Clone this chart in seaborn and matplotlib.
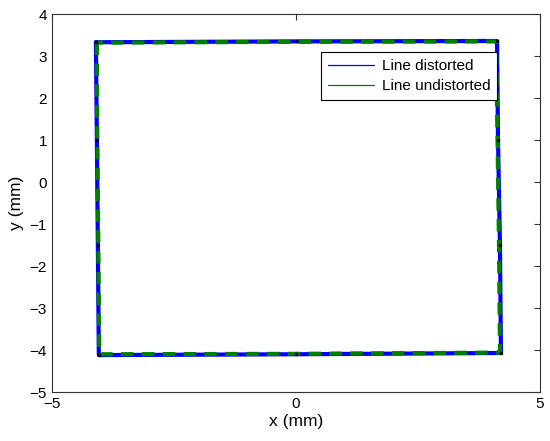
import matplotlib
matplotlib.use("Agg")
import matplotlib.pyplot as plt
import seaborn as sns
import pandas as pd

sns.set_style("white")
plt.rcParams['font.family'] = ['Arial', 'Liberation Sans', 'DejaVu Sans']
plt.rcParams['text.color'] = 'black'
plt.rcParams['axes.labelcolor'] = 'black'
plt.rcParams['xtick.color'] = 'black'
plt.rcParams['ytick.color'] = 'black'

# distorted line (closed contour)
dist_x = [-4.10, -4.08, -4.06, -4.04, 0.0, 4.20, 4.18, 4.14, 4.12, 0.0, -4.10]
dist_y = [3.33, 1.0, -1.5, -4.12, -4.10, -4.07, -1.5, 1.0, 3.36, 3.35, 3.33]
# undistorted line
und_x = [-4.08, -4.07, -4.05, -4.03, 0.0, 4.18, 4.16, 4.13, 4.10, 0.0, -4.08]
und_y = [3.32, 1.0, -1.5, -4.10, -4.09, -4.06, -1.5, 1.0, 3.35, 3.34, 3.32]

xticks = [-5, 0, 5]
yticks = [-5, -4, -3, -2, -1, 0, 1, 2, 3, 4]

fig = plt.figure(figsize=(5.5, 4.41), dpi=100)
ax = fig.add_axes([0.0945, 0.111, 0.8873, 0.857])

n = len(dist_x)
df_d = pd.DataFrame({"x": dist_x, "y": dist_y, "o": range(n)})
df_u = pd.DataFrame({"x": und_x, "y": und_y, "o": range(n)})

sns.lineplot(data=df_d, x="x", y="y", sort=False, estimator=None, ax=ax,
             color="#0000ff", lw=3.0, label="_d")
sns.lineplot(data=df_u, x="x", y="y", sort=False, estimator=None, ax=ax,
             color="#007f00", lw=3.0, dashes=False, label="_u")
ax.lines[-1].set_linestyle((0, (3, 2.0)))
ax.plot(dist_x, dist_y, ls="none", marker=".", ms=3, color="black")

from matplotlib.lines import Line2D
handles = [Line2D([], [], color="#0000ff", lw=0.9),
           Line2D([], [], color="#007f00", lw=0.9)]
leg = ax.legend(handles, ["Line distorted", "Line undistorted"], loc="upper right",
                bbox_to_anchor=(0.912, 0.899), fancybox=False, framealpha=1,
                edgecolor="black", fontsize=11, handlelength=3.0,
                borderpad=0.45, labelspacing=0.4, handletextpad=0.5,
                borderaxespad=0)
leg.get_frame().set_linewidth(0.8)

ax.set_xlim(-5, 5)
ax.set_ylim(-5, 4)
ax.set_xticks(xticks)
ax.set_yticks(yticks)
ax.set_xlabel("x (mm)", fontsize=12.5, labelpad=2)
ax.set_ylabel("y (mm)", fontsize=12.5, labelpad=4)
ax.tick_params(direction="in", length=4, width=0.8, labelsize=11,
               top=True, right=True, color="#333333")
for s in ax.spines.values():
    s.set_color("#333333")
    s.set_linewidth(0.8)

fig.savefig("out.png", dpi=100)
